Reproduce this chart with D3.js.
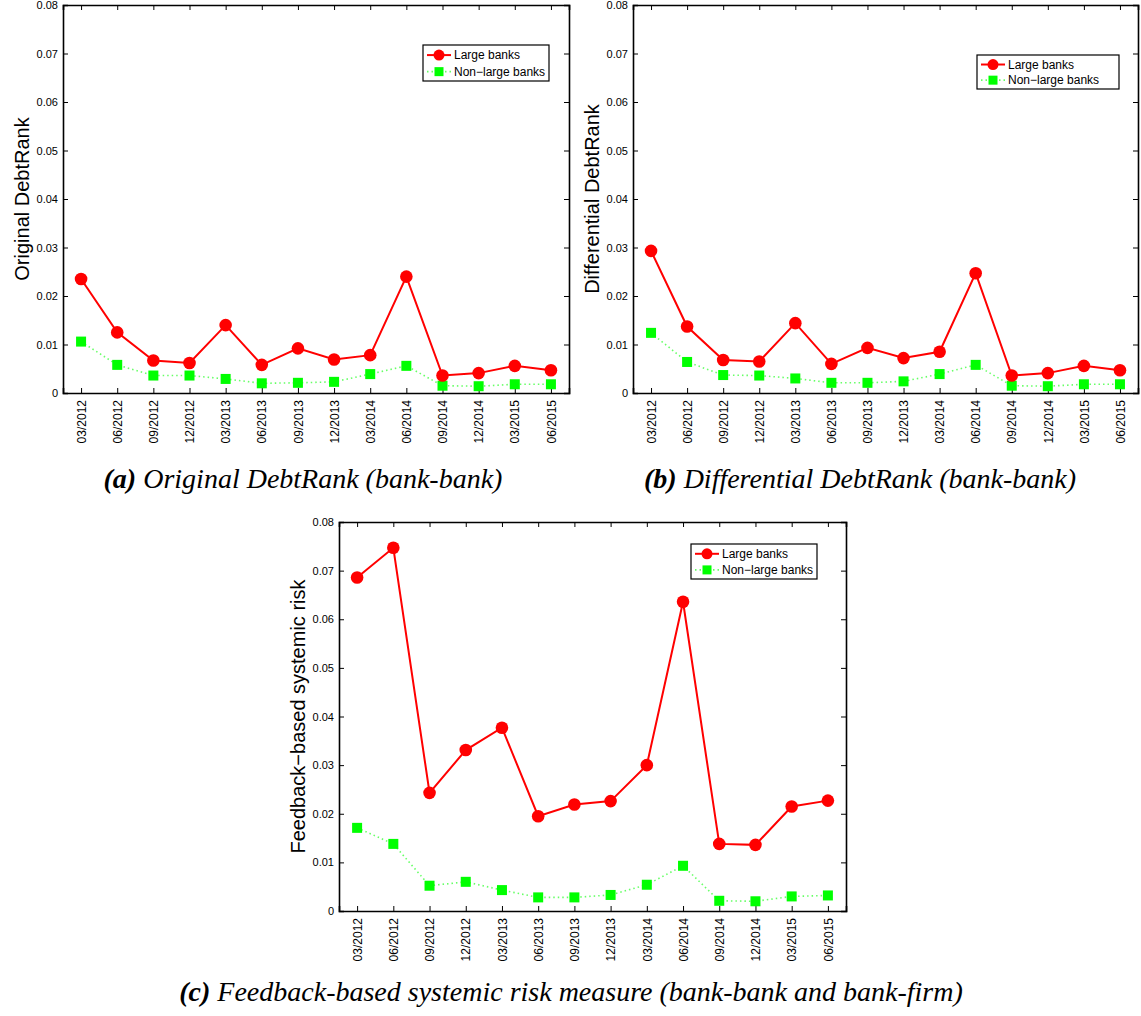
<!DOCTYPE html>
<html>
<head>
<meta charset="utf-8">
<script src="https://cdn.jsdelivr.net/npm/d3@7"></script>
<style>
  body { margin: 0; background: #fff; }
  svg { display: block; }
</style>
</head>
<body>
<svg id="chart" width="1141" height="1016"></svg>
<script>
// Quarter labels along the x axis
const quarters = ["03/2012","06/2012","09/2012","12/2012","03/2013","06/2013","09/2013",
                  "12/2013","03/2014","06/2014","09/2014","12/2014","03/2015","06/2015"];
const yTicks = [0, 0.01, 0.02, 0.03, 0.04, 0.05, 0.06, 0.07, 0.08];
const seriesNames = ["Large banks", "Non\u2212large banks"];

// (a) Original DebtRank
const origLarge    = [0.0235,0.0125,0.0067,0.0062,0.0140,0.0058,0.0092,0.0069,0.0078,0.0240,0.0036,0.0041,0.0056,0.0047];
const origNonLarge = [0.0106,0.0058,0.0036,0.0036,0.0029,0.0020,0.0021,0.0023,0.0039,0.0056,0.0015,0.0014,0.0018,0.0018];
// (b) Differential DebtRank
const diffLarge    = [0.0293,0.0137,0.0068,0.0065,0.0144,0.0060,0.0093,0.0072,0.0085,0.0247,0.0036,0.0041,0.0056,0.0047];
const diffNonLarge = [0.0124,0.0064,0.0037,0.0036,0.0030,0.0021,0.0021,0.0024,0.0039,0.0058,0.0015,0.0014,0.0018,0.0018];
// (c) Feedback-based systemic risk
const fbLarge      = [0.0686,0.0747,0.0243,0.0331,0.0377,0.0195,0.0219,0.0226,0.0300,0.0636,0.0138,0.0136,0.0215,0.0227];
const fbNonLarge   = [0.0171,0.0138,0.0052,0.0060,0.0043,0.0028,0.0028,0.0033,0.0054,0.0093,0.0021,0.0020,0.0030,0.0032];

const panels = [
  { box: [63, 5, 569, 393], ylabel: "Original DebtRank", large: origLarge, small: origNonLarge,
    legend: [423, 45, 126, 36], capX: 303, capY: 488, capTag: "(a)", capText: " Original DebtRank (bank-bank)" },
  { box: [633, 5, 1138, 393], ylabel: "Differential DebtRank", large: diffLarge, small: diffNonLarge,
    legend: [977, 55, 142, 34], capX: 860, capY: 488, capTag: "(b)", capText: " Differential DebtRank (bank-bank)" },
  { box: [339, 522, 846, 911], ylabel: "Feedback\u2212based systemic risk", large: fbLarge, small: fbNonLarge,
    legend: [691, 544, 126, 35], capX: 571, capY: 1001, capTag: "(c)", capText: " Feedback-based systemic risk measure (bank-bank and bank-firm)" }
];

const RED = "#ff0000", GREEN = "#00ff00";
const svg = d3.select("#chart");
const font = "Liberation Sans, Arial, Helvetica, sans-serif";

panels.forEach(p => {
  const [x0, y0, x1, y1] = p.box;
  const x = d3.scaleLinear().domain([0.5, quarters.length + 0.5]).range([x0, x1]);
  const y = d3.scaleLinear().domain([0, 0.08]).range([y1, y0]);
  const idx = d3.range(1, quarters.length + 1);
  const g = svg.append("g");

  // Axis box with inward ticks on all four sides
  const fmt = v => v === 0 ? "0" : d3.format(".2f")(v);
  const bottom = g.append("g").attr("transform", `translate(0,${y1})`)
    .call(d3.axisBottom(x).tickValues(idx).tickSize(-5).tickPadding(6).tickFormat(i => quarters[i - 1]));
  g.append("g").attr("transform", `translate(0,${y0})`)
    .call(d3.axisTop(x).tickValues(idx).tickSize(-5).tickFormat(""));
  g.append("g").attr("transform", `translate(${x0},0)`)
    .call(d3.axisLeft(y).tickValues(yTicks).tickSize(-5).tickPadding(5).tickFormat(fmt));
  g.append("g").attr("transform", `translate(${x1},0)`)
    .call(d3.axisRight(y).tickValues(yTicks).tickSize(-5).tickFormat(""));
  g.selectAll(".domain").attr("stroke", "#000").attr("stroke-width", 1.6);
  g.selectAll(".tick line").attr("stroke", "#000").attr("stroke-width", 1);
  g.selectAll(".tick text").attr("fill", "#000").style("font-family", font).style("font-size", "11px");
  bottom.selectAll("text")
    .attr("transform", "rotate(-90)")
    .attr("text-anchor", "end")
    .attr("x", -7).attr("y", 0).attr("dy", "0.35em")
    .style("font-size", "12px");

  // Y axis title
  g.append("text")
    .attr("transform", `translate(${x0 - 34},${(y0 + y1) / 2}) rotate(-90)`)
    .attr("text-anchor", "middle")
    .style("font-family", font).style("font-size", "20px")
    .text(p.ylabel);

  // Non-large banks: dotted green line with square markers
  const line = d3.line().x((d, i) => x(i + 1)).y(d => y(d));
  g.append("path").datum(p.small).attr("d", line)
    .attr("fill", "none").attr("stroke", GREEN).attr("stroke-width", 1.6)
    .attr("stroke-dasharray", "1.5,3").attr("opacity", 0.6);
  g.selectAll(".sq").data(p.small).enter().append("rect")
    .attr("x", (d, i) => x(i + 1) - 5).attr("y", d => y(d) - 5)
    .attr("width", 10).attr("height", 10).attr("fill", GREEN);

  // Large banks: solid red line with circle markers
  g.append("path").datum(p.large).attr("d", line)
    .attr("fill", "none").attr("stroke", RED).attr("stroke-width", 2);
  g.selectAll(".dot").data(p.large).enter().append("circle")
    .attr("cx", (d, i) => x(i + 1)).attr("cy", d => y(d)).attr("r", 6.3).attr("fill", RED);

  // Legend
  const [lx, ly, lw, lh] = p.legend;
  const lg = g.append("g");
  lg.append("rect").attr("x", lx).attr("y", ly).attr("width", lw).attr("height", lh)
    .attr("fill", "#fff").attr("stroke", "#000").attr("stroke-width", 1.2);
  const r1 = ly + lh * 0.28, r2 = ly + lh * 0.74;
  lg.append("line").attr("x1", lx + 4).attr("x2", lx + 28).attr("y1", r1).attr("y2", r1)
    .attr("stroke", RED).attr("stroke-width", 2);
  lg.append("circle").attr("cx", lx + 16).attr("cy", r1).attr("r", 5.5).attr("fill", RED);
  lg.append("line").attr("x1", lx + 4).attr("x2", lx + 28).attr("y1", r2).attr("y2", r2)
    .attr("stroke", GREEN).attr("stroke-width", 1.6).attr("stroke-dasharray", "1.5,3").attr("opacity", 0.6);
  lg.append("rect").attr("x", lx + 11.5).attr("y", r2 - 4.5).attr("width", 9).attr("height", 9).attr("fill", GREEN);
  [r1, r2].forEach((ry, k) => {
    lg.append("text").attr("x", lx + 31).attr("y", ry).attr("dy", "0.35em")
      .style("font-family", font).style("font-size", "12px").text(seriesNames[k]);
  });

  // Caption
  const cap = svg.append("text").attr("x", p.capX).attr("y", p.capY).attr("text-anchor", "middle")
    .style("font-family", "Liberation Serif, Times New Roman, serif").style("font-size", "28px")
    .style("font-style", "italic");
  cap.append("tspan").style("font-weight", "bold").text(p.capTag);
  cap.append("tspan").text(p.capText);
});
</script>
</body>
</html>
